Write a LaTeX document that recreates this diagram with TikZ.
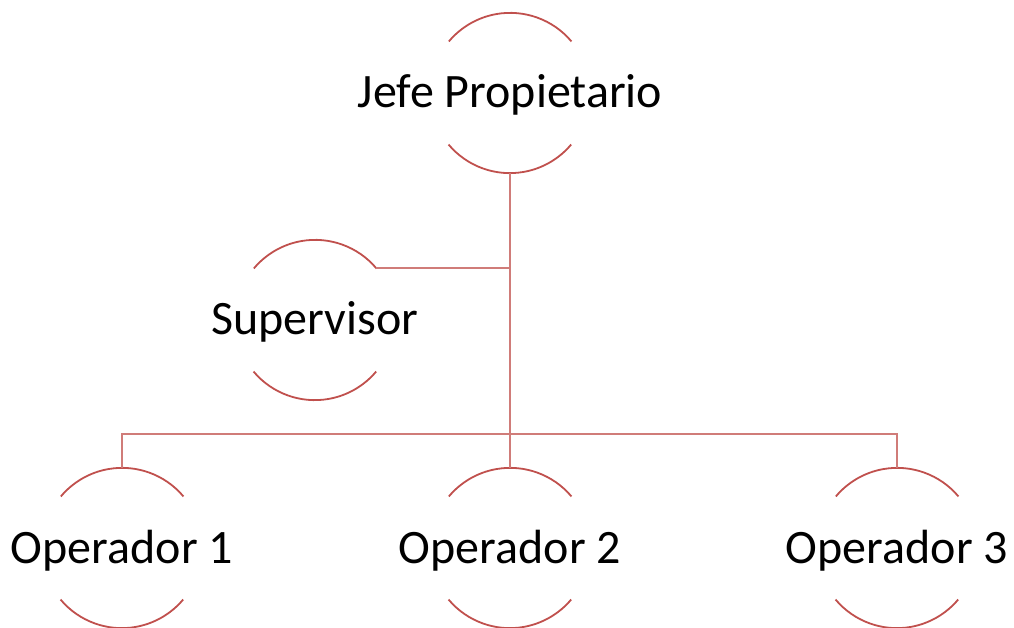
\documentclass[tikz,border=0pt]{standalone}
\usepackage{fontspec}
\setmainfont{Carlito}
\definecolor{ring}{HTML}{C0504D}
\colorlet{link}{ring!75!white}
\begin{document}
\begin{tikzpicture}[x=1pt,y=1pt,
  ringnode/.style={circle,draw=none,minimum size=160pt,inner sep=0pt},
  ringarc/.style={draw=ring,line width=1.8pt},
  linkline/.style={draw=link,line width=1.9pt},
  lbl/.style={anchor=base,inner sep=0pt,font=\fontsize{48}{57}\selectfont}]
\useasboundingbox (0,0) rectangle (1014,627);
% circles (only the top and bottom arcs are shown)
\node[ringnode] (j)  at (510,534) {};
\node[ringnode] (s)  at (315,307) {};
\node[ringnode] (o1) at (122,79) {};
\node[ringnode] (o2) at (510,79) {};
\node[ringnode] (o3) at (897,79) {};
\foreach \n in {j,s,o1,o2,o3}{
  \draw[ringarc] (\n.40) arc[start angle=40,end angle=140,radius=80pt];
  \draw[ringarc] (\n.220) arc[start angle=220,end angle=320,radius=80pt];
}
% connectors
\coordinate (bus) at (510,193);
\draw[linkline] (j.south) -- (o2.north);
\draw[linkline] (s.40) -- (s.40 -| j.south);
\draw[linkline] (o1.north) -- (o1.north |- bus) -- (o3.north |- bus) -- (o3.north);
% labels
\node[lbl] (tj)  at ([yshift=-15pt]j.center)  {Jefe Propietario};
\node[lbl] (ts)  at ([yshift=-15pt]s.center)  {Supervisor};
\node[lbl] (to1) at ([yshift=-15pt]o1.center) {Operador 1};
\node[lbl] (to2) at ([yshift=-15pt]o2.center) {Operador 2};
\node[lbl] (to3) at ([yshift=-15pt]o3.center) {Operador 3};
\end{tikzpicture}
\end{document}
